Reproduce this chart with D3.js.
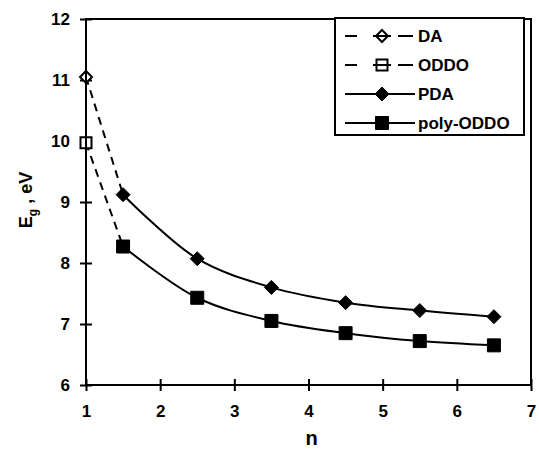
<!DOCTYPE html>
<html>
<head>
<meta charset="utf-8">
<script src="https://cdn.jsdelivr.net/npm/d3@7"></script>
<style>
  body { margin: 0; background: #fff; }
  svg { display: block; font-family: "Liberation Sans", Arial, sans-serif; font-weight: bold; }
</style>
</head>
<body>
<div id="chart"></div>
<script>
const width = 539;
const height = 451;
const margin = { top: 19, right: 8, bottom: 66, left: 86 };

// data
const nDA = [1, 1.5];
const egDA = [11.05, 9.12];
const nODDO = [1, 1.5];
const egODDO = [9.97, 8.27];
const nPoly = [1.5, 2.5, 3.5, 4.5, 5.5, 6.5];
const egPDA = [9.12, 8.07, 7.6, 7.35, 7.22, 7.12];
const egPolyODDO = [8.27, 7.43, 7.05, 6.85, 6.72, 6.65];
const xTicks = [1, 2, 3, 4, 5, 6, 7];
const yTicks = [6, 7, 8, 9, 10, 11, 12];
const legendLabels = ["DA", "ODDO", "PDA", "poly-ODDO"];

const svg = d3
  .select("#chart")
  .append("svg")
  .attr("width", width)
  .attr("height", height);

const plotWidth = width - margin.left - margin.right;
const plotHeight = height - margin.top - margin.bottom;

const x = d3.scaleLinear().domain([1, 7]).range([margin.left, margin.left + plotWidth]);
const y = d3.scaleLinear().domain([6, 12]).range([margin.top + plotHeight, margin.top]);

// frame
svg.append("rect")
  .attr("x", x(1))
  .attr("y", y(12))
  .attr("width", x(7) - x(1))
  .attr("height", y(6) - y(12))
  .attr("fill", "none")
  .attr("stroke", "#000")
  .attr("stroke-width", 2);

// axes with ticks crossing the line
const yAxis = svg.append("g")
  .attr("transform", `translate(${x(1)},0)`)
  .call(d3.axisLeft(y).tickValues(yTicks).tickFormat(d3.format("d")).tickSize(6).tickPadding(10));
yAxis.select(".domain").remove();
yAxis.selectAll(".tick line").attr("x1", 6).attr("x2", -6).attr("stroke-width", 2);
yAxis.selectAll(".tick text").attr("font-size", 17).attr("font-weight", "bold").attr("fill", "#000");

const xAxis = svg.append("g")
  .attr("transform", `translate(0,${y(6)})`)
  .call(d3.axisBottom(x).tickValues(xTicks).tickFormat(d3.format("d")).tickSize(6).tickPadding(14));
xAxis.select(".domain").remove();
xAxis.selectAll(".tick line").attr("y1", -6).attr("y2", 6).attr("stroke-width", 2);
xAxis.selectAll(".tick text").attr("font-size", 17).attr("font-weight", "bold").attr("fill", "#000");

// axis titles
svg.append("text")
  .attr("x", (x(1) + x(7)) / 2 + 3)
  .attr("y", 445)
  .attr("text-anchor", "middle")
  .attr("font-size", 20)
  .text("n");

const yTitle = svg.append("text")
  .attr("transform", `translate(32,${200}) rotate(-90)`)
  .attr("text-anchor", "middle")
  .attr("font-size", 18);
yTitle.append("tspan").text("E");
yTitle.append("tspan").attr("font-size", 12).attr("dy", 5).text("g");
yTitle.append("tspan").attr("dy", -5).text(" , eV");

// lines
const straight = d3.line().x((d) => x(d[0])).y((d) => y(d[1]));
const smooth = d3.line().curve(d3.curveCatmullRom.alpha(0.5)).x((d) => x(d[0])).y((d) => y(d[1]));

const zip = (a, b) => a.map((v, i) => [v, b[i]]);

const series = [
  { pts: zip(nDA, egDA), line: straight, dash: "8,6", marker: "diamond", open: true },
  { pts: zip(nODDO, egODDO), line: straight, dash: "8,6", marker: "square", open: true },
  { pts: zip(nPoly, egPDA), line: smooth, dash: null, marker: "diamond", open: false },
  { pts: zip(nPoly, egPolyODDO), line: smooth, dash: null, marker: "square", open: false },
];

const symbolPath = (kind, open) => {
  if (kind === "diamond") {
    const r = open ? 6 : 7;
    return `M0,${-r}L${r},0L0,${r}L${-r},0Z`;
  }
  const h = open ? 5.5 : 6.5;
  return `M${-h},${-h}H${h}V${h}H${-h}Z`;
};

series.forEach((s) => {
  svg.append("path")
    .datum(s.pts)
    .attr("fill", "none")
    .attr("stroke", "#000")
    .attr("stroke-width", 2)
    .attr("stroke-dasharray", s.dash)
    .attr("d", s.line);
});

series.forEach((s) => {
  const pts = s.open ? s.pts.slice(0, 1) : s.pts;
  svg.selectAll(null)
    .data(pts)
    .join("path")
    .attr("transform", (d) => `translate(${x(d[0])},${y(d[1])})`)
    .attr("d", symbolPath(s.marker, s.open))
    .attr("fill", s.open ? "#fff" : "#000")
    .attr("stroke", "#000")
    .attr("stroke-width", s.open ? 2 : 1);
  if (s.open) {
    // the axis line shows through the hollow marker
    svg.selectAll(null)
      .data(pts)
      .join("line")
      .attr("x1", (d) => x(d[0])).attr("x2", (d) => x(d[0]))
      .attr("y1", (d) => y(d[1]) - 6).attr("y2", (d) => y(d[1]) + 6)
      .attr("stroke", "#000")
      .attr("stroke-width", 2);
  }
});

// legend
const lg = svg.append("g").attr("transform", "translate(335,18)");
lg.append("rect")
  .attr("width", 189)
  .attr("height", 117)
  .attr("fill", "#fff")
  .attr("stroke", "#000")
  .attr("stroke-width", 2);

legendLabels.forEach((label, i) => {
  const s = series[i];
  const row = lg.append("g").attr("transform", `translate(0,${18 + i * 29})`);
  const segs = s.open ? [[10, 22], [38, 56], [63, 78]] : [[10, 80]];
  segs.forEach(([a, b]) => {
    row.append("line")
      .attr("x1", a).attr("x2", b)
      .attr("stroke", "#000")
      .attr("stroke-width", 2);
  });
  row.append("path")
    .attr("transform", "translate(47,0)")
    .attr("d", symbolPath(s.marker, s.open))
    .attr("fill", s.open ? "#fff" : "#000")
    .attr("stroke", "#000")
    .attr("stroke-width", s.open ? 2 : 1);
  if (s.open) {
    row.append("line").attr("x1", 40).attr("x2", 54).attr("stroke", "#000").attr("stroke-width", 2);
  }
  row.append("text")
    .attr("x", 83)
    .attr("dy", "0.36em")
    .attr("font-size", 17)
    .text(label);
});
</script>
</body>
</html>
